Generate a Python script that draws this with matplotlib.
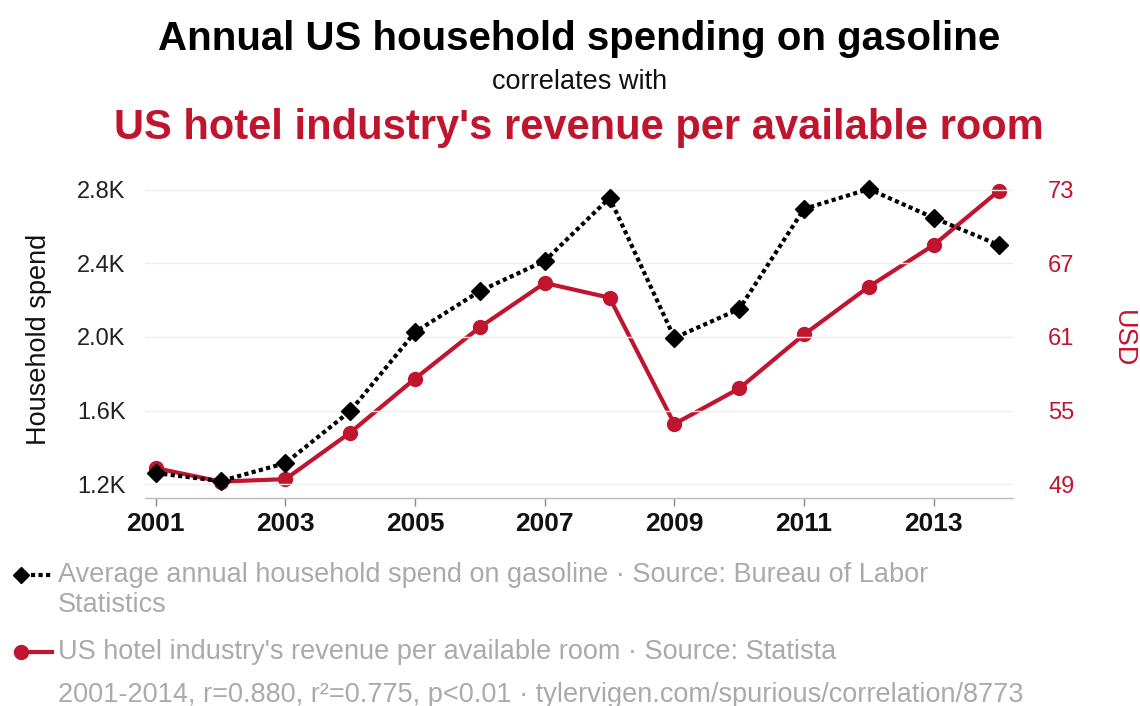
import matplotlib
matplotlib.use("Agg")
import matplotlib.pyplot as plt
from matplotlib.lines import Line2D

plt.rcParams['font.family'] = ['Liberation Sans', 'DejaVu Sans']

years = [2001, 2002, 2003, 2004, 2005, 2006, 2007, 2008, 2009, 2010, 2011, 2012, 2013, 2014]
gasoline = [1260, 1216, 1314, 1597, 2027, 2250, 2414, 2757, 1995, 2152, 2697, 2805, 2648, 2501]
revpar = [50.3, 49.2, 49.4, 53.2, 57.6, 61.8, 65.4, 64.2, 53.9, 56.8, 61.2, 65.1, 68.5, 72.9]

left_ticks = [1200, 1600, 2000, 2400, 2800]
left_labels = ["1.2K", "1.6K", "2.0K", "2.4K", "2.8K"]
right_ticks = [49, 55, 61, 67, 73]
x_ticks = [2001, 2003, 2005, 2007, 2009, 2011, 2013]

RED = "#c0152f"
GRAY = "#aaaaaa"

fig = plt.figure(figsize=(11.4, 7.06), dpi=100)
ax = fig.add_axes([0.127, 0.2946, 0.762, 0.4504])
ax2 = ax.twinx()

ax.set_xlim(2000.83, 2014.23)
ax.set_ylim(1124, 2854)
ax2.set_ylim(47.86, 73.8)

ax2.plot(years, revpar, color=RED, lw=3, marker='o', ms=10, zorder=3)
ax.plot(years, gasoline, color='black', lw=3, ls=(0, (1, 0.8)), marker='D', ms=9, zorder=4)
ax.set_zorder(ax2.get_zorder() + 1)
ax.patch.set_visible(False)

ax.set_yticks(left_ticks)
ax.set_yticklabels(left_labels)
ax2.set_yticks(right_ticks)
ax.set_xticks(x_ticks)
ax.set_xticklabels([str(x) for x in x_ticks], fontweight='bold')

for a in (ax, ax2):
    for s in a.spines.values():
        s.set_visible(False)
ax.spines['bottom'].set_visible(True)
ax.spines['bottom'].set_color('#bbbbbb')
ax.spines['bottom'].set_linewidth(1)

ax.grid(axis='y', color='#eeeeee', lw=1)
ax.set_axisbelow(True)
ax.tick_params(axis='y', length=0, labelsize=17, pad=14, colors='#222222')
ax.tick_params(axis='x', length=6, width=1, color='#888888', labelsize=19, pad=4, labelcolor='#111111')
ax2.tick_params(axis='y', length=0, labelsize=17, pad=25, labelcolor=RED)

ax.set_ylabel("Household spend", fontsize=19.5, color='#111111', labelpad=18)
ax2.set_ylabel("USD", fontsize=19.5, color=RED, rotation=270, labelpad=44)

fig.text(0.508, 0.945, "Annual US household spending on gasoline", ha='center', va='center',
         fontsize=29, fontweight='bold', color='black')
fig.text(0.508, 0.884, "correlates with", ha='center', va='center', fontsize=19.5, color='#111111')
fig.text(0.508, 0.818, "US hotel industry's revenue per available room", ha='center', va='center',
         fontsize=30, fontweight='bold', color=RED)

# legend
lx0, lx1 = 0.014, 0.046
tx = 0.051
fig.add_artist(Line2D([lx0, lx1], [0.185, 0.185], color='black', lw=3, ls=(0, (1, 0.8)),
                      transform=fig.transFigure))
fig.add_artist(Line2D([lx0 + 0.004], [0.185], color='black', marker='D', ms=8,
                      transform=fig.transFigure))
fig.text(tx, 0.185, "Average annual household spend on gasoline · Source: Bureau of Labor",
         va='center', fontsize=19.5, color=GRAY)
fig.text(tx, 0.143, "Statistics", va='center', fontsize=19.5, color=GRAY)
fig.add_artist(Line2D([lx0, lx1], [0.077, 0.077], color=RED, lw=3, transform=fig.transFigure))
fig.add_artist(Line2D([lx0 + 0.004], [0.077], color=RED, marker='o', ms=10,
                      transform=fig.transFigure))
fig.text(tx, 0.077, "US hotel industry's revenue per available room · Source: Statista",
         va='center', fontsize=19.5, color=GRAY)
fig.text(tx, 0.016, "2001-2014, r=0.880, r²=0.775, p<0.01 · tylervigen.com/spurious/correlation/8773",
         va='center', fontsize=19.5, color=GRAY)

fig.savefig("out.png", dpi=100, facecolor='white')
